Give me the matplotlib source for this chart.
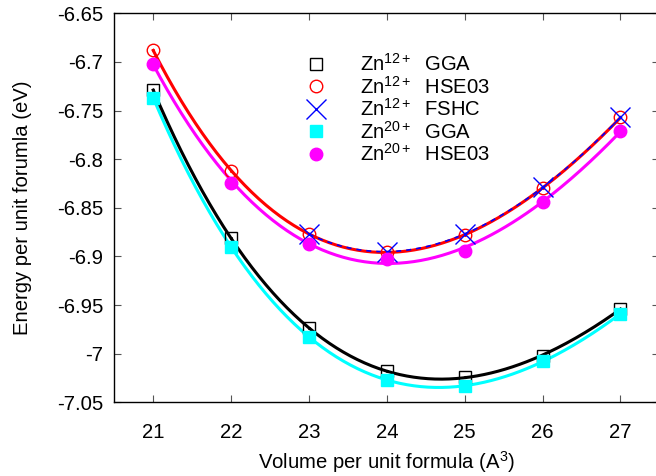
import numpy as np
import matplotlib.pyplot as plt
from matplotlib.ticker import FuncFormatter

plt.rcParams['font.family'] = ['Liberation Sans', 'DejaVu Sans']
plt.rcParams['mathtext.fontset'] = 'custom'
plt.rcParams['mathtext.rm'] = 'Liberation Sans'
plt.rcParams['mathtext.it'] = 'Liberation Sans:italic'
plt.rcParams['mathtext.default'] = 'rm'

# data
vol = [21, 22, 23, 24, 25, 26, 27]
vol_fshc = [23, 24, 25, 26, 27]
zn12_gga = [-6.729, -6.881, -6.974, -7.018, -7.024, -7.002, -6.954]
zn12_hse = [-6.688, -6.812, -6.877, -6.895, -6.878, -6.830, -6.757]
zn12_fshc = [-6.877, -6.895, -6.877, -6.829, -6.757]
zn20_gga = [-6.737, -6.890, -6.983, -7.027, -7.033, -7.008, -6.959]
zn20_hse = [-6.702, -6.824, -6.887, -6.903, -6.894, -6.844, -6.771]

yticks = [-7.05, -7.0, -6.95, -6.9, -6.85, -6.8, -6.75, -6.7, -6.65]


def bm_fit(v, e, vmin, vmax):
    # cubic in V^(-2/3), Birch-Murnaghan style
    v = np.array(v, float)
    c = np.polyfit(v ** (-2.0 / 3), e, 3)
    vv = np.linspace(vmin, vmax, 200)
    return vv, np.polyval(c, vv ** (-2.0 / 3))


fs = 14.6
fig = plt.figure(figsize=(6.56, 4.76), dpi=100)
ax = fig.add_axes([0.1742, 0.1548, 0.831, 0.8173])

lw = 2.2
x, y = bm_fit(vol, zn20_gga, 21, 27)
ax.plot(x, y, color='#00ffff', lw=lw)
x, y = bm_fit(vol, zn12_gga, 21, 27)
ax.plot(x, y, color='black', lw=lw)
x, y = bm_fit(vol, zn20_hse, 21, 27)
ax.plot(x, y, color='#ff00ff', lw=lw)
x, y = bm_fit(vol, zn12_hse, 21, 27)
ax.plot(x, y, color='#ff0000', lw=lw)
x, y = bm_fit(vol_fshc, zn12_fshc, 23, 27)
ax.plot(x, y, color='#0000ff', lw=1.2, ls=(0, (3, 3)))

ms = 9
ax.plot(vol, zn12_gga, 's', mfc='none', mec='black', mew=1.0, ms=ms,
        label='Zn$^{12+}$  GGA')
ax.plot(vol, zn12_gga, '.', color='black', ms=2.5)
ax.plot(vol, zn12_hse, 'o', mfc='none', mec='#ff0000', mew=1.0, ms=ms,
        label='Zn$^{12+}$  HSE03')
ax.plot(vol, zn12_hse, '.', color='#ff0000', ms=2.5)
ax.plot(vol_fshc, zn12_fshc, 'x', color='#0000ff', mew=1.0, ms=14,
        label='Zn$^{12+}$  FSHC')
ax.plot(vol, zn20_gga, 's', color='#00ffff', ms=ms, label='Zn$^{20+}$  GGA')
ax.plot(vol, zn20_hse, 'o', color='#ff00ff', ms=ms, label='Zn$^{20+}$  HSE03')

ax.set_xlim(20.5, 27.5)
ax.set_ylim(-7.05, -6.65)
ax.set_xticks(vol)
ax.set_yticks(yticks)
ax.yaxis.set_major_formatter(FuncFormatter(lambda v, p: '%g' % round(v, 2)))
ax.tick_params(direction='in', top=True, right=True, length=5, width=0.8,
               labelsize=fs, color='#555555')
ax.tick_params(axis='y', pad=8)
ax.tick_params(axis='x', pad=15)
for s in ax.spines.values():
    s.set_linewidth(1.0)

ax.set_xlabel('Volume per unit formula (A$^3$)', fontsize=fs, labelpad=5)
ax.set_ylabel('Energy per unit forumla (eV)', fontsize=fs, labelpad=18)

ax.legend(loc='upper left', bbox_to_anchor=(296 / 656, 1 - 53 / 476),
          bbox_transform=fig.transFigure, frameon=False, fontsize=fs,
          handlelength=2.0, handletextpad=1.15, labelspacing=0.03,
          borderpad=0, borderaxespad=0)

plt.savefig('out.png', dpi=100)
